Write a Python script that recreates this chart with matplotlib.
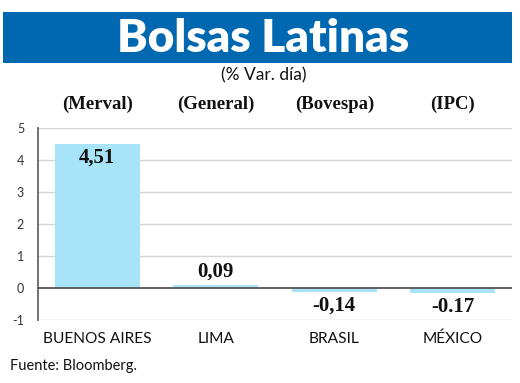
import matplotlib
matplotlib.use("Agg")
import matplotlib.pyplot as plt
from matplotlib.patches import Rectangle

categories = ["BUENOS AIRES", "LIMA", "BRASIL", "MÉXICO"]
indices = ["(Merval)", "(General)", "(Bovespa)", "(IPC)"]
values = [4.51, 0.09, -0.14, -0.17]
value_labels = ["4,51", "0,09", "-0,14", "-0.17"]
yticks = [-1, 0, 1, 2, 3, 4, 5]

W, H = 520, 383
fig = plt.figure(figsize=(W / 100, H / 100), dpi=100)
fig.patch.set_facecolor("white")

# banner
fig.patches.append(Rectangle((3 / W, 1 - 63 / H), 509 / W, 51 / H,
                             transform=fig.transFigure, facecolor="#0067B1",
                             edgecolor="none", zorder=0))
fig.text(263 / W, 1 - 38 / H, "Bolsas Latinas", color="white", fontsize=33,
         fontweight="heavy", family="Lato", ha="center", va="center")
fig.text(264 / W, 1 - 75 / H, "(% Var. día)", color="#111111", fontsize=12.5,
         family="Lato", ha="center", va="center")

ax = fig.add_axes([38 / W, 1 - 320 / H, 474 / W, 192 / H])
x = list(range(len(categories)))
ax.bar(x, values, width=0.714, color="#A8E4F8", zorder=2)
ax.set_xlim(-0.5, 3.5)
ax.set_ylim(-1, 5)
ax.set_yticks(yticks)
ax.set_yticklabels([str(t) for t in yticks], fontsize=9, color="#333333",
                   family="Lato")
ax.tick_params(axis="y", length=0, pad=10)
ax.set_xticks([])
for t in yticks:
    if t == 0:
        ax.axhline(t, color="#555555", lw=1.3, zorder=3)
    else:
        ax.axhline(t, color="#D5D5D5", lw=1.0, zorder=1)
for s in ["top", "right", "bottom"]:
    ax.spines[s].set_visible(False)
ax.spines["left"].set_color("#666666")
ax.spines["left"].set_linewidth(1.3)

for i, (v, lab) in enumerate(zip(values, value_labels)):
    if v > 1:
        y, va = v - 0.13, "top"
    elif v >= 0:
        y, va = v + 0.12, "bottom"
    else:
        y, va = v - 0.1, "top"
    ax.text(i, y, lab, ha="center", va=va, fontsize=15, fontweight="bold",
            family="Liberation Serif", color="#111111", zorder=4)
    ax.text(i, 5.75, indices[i], ha="center", va="center", fontsize=13.5,
            fontweight="bold", family="Liberation Serif", color="#111111",
            clip_on=False)
    ax.text(i, -1.58, categories[i], ha="center", va="center", fontsize=11.2,
            family="Lato", color="#111111", clip_on=False)

fig.text(10 / W, 1 - 366 / H, "Fuente: Bloomberg.", fontsize=10.5,
         family="Lato", color="#111111", ha="left", va="center")

fig.savefig("out.png", dpi=100)
